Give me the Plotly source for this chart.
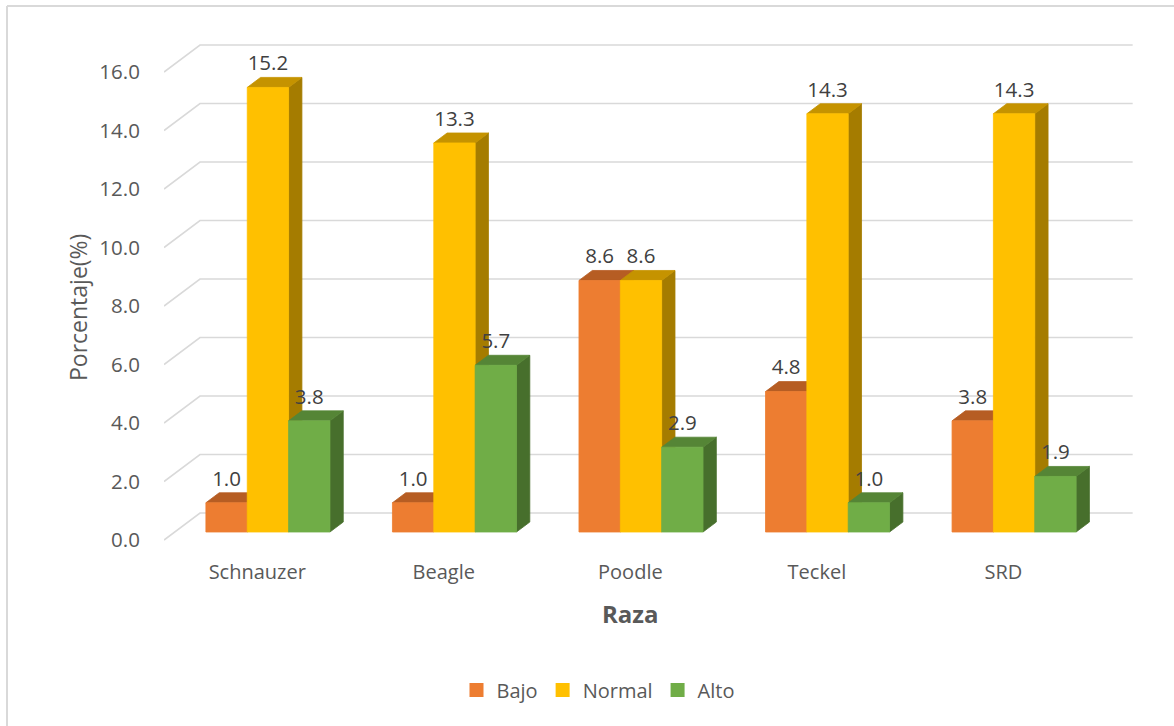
import plotly.graph_objects as go

# ---------------- data ----------------
categories = ["Schnauzer", "Beagle", "Poodle", "Teckel", "SRD"]
series_names = ["Bajo", "Normal", "Alto"]
bajo = [1.0, 1.0, 8.6, 4.8, 3.8]
normal = [15.2, 13.3, 8.6, 14.3, 14.3]
alto = [3.8, 5.7, 2.9, 1.0, 1.9]
y_ticks = [0, 2, 4, 6, 8, 10, 12, 14, 16]

# ---------------- styles ----------------
front_colors = ["#ED7D31", "#FFC000", "#70AD47"]
top_colors = ["#B65D23", "#C59300", "#558536"]
side_colors = ["#A04E1A", "#A57C00", "#476F2C"]
grid_color = "#D9D9D9"
text_color = "#595959"
label_color = "#404040"
FONT = "Open Sans"

# pseudo-3D geometry (in axis units)
DX = 36 / 186.6      # full depth, category units
DY = 27 / 29.25      # full depth, value units
F0 = 0.296           # bar front depth fraction
F1 = 0.666           # bar back depth fraction
GROUP = 0.665        # width of a group of bars (category units)
NBARS = 3
BW = GROUP / NBARS
LABEL_PAD = 2 / 29.25

values = [bajo, normal, alto]
fig = go.Figure()

# gridlines: floor diagonal + back wall horizontal
gx, gy = [], []
for v in y_ticks:
    gx += [0, DX, len(categories) + DX, None]
    gy += [v, v + DY, v + DY, None]
fig.add_trace(go.Scatter(x=gx, y=gy, mode="lines", line=dict(color=grid_color, width=1.6),
                         hoverinfo="skip", showlegend=False))

def poly(xs, ys, color):
    fig.add_trace(go.Scatter(x=xs + [xs[0]], y=ys + [ys[0]], mode="lines", fill="toself",
                             fillcolor=color, line=dict(color=color, width=0.8),
                             hoverinfo="skip", showlegend=False))

lab_x, lab_y, lab_t = [], [], []
for k in range(len(categories)):
    for s in range(NBARS):
        v = values[s][k]
        x0 = k + 0.5 - GROUP / 2 + s * BW
        x1 = x0 + BW
        fx, fy = F0 * DX, F0 * DY
        bx, by = F1 * DX, F1 * DY
        # side face
        poly([x1 + fx, x1 + bx, x1 + bx, x1 + fx], [fy, by, v + by, v + fy], side_colors[s])
        # top face
        poly([x0 + fx, x1 + fx, x1 + bx, x0 + bx], [v + fy, v + fy, v + by, v + by], top_colors[s])
        # front face
        poly([x0 + fx, x1 + fx, x1 + fx, x0 + fx], [fy, fy, v + fy, v + fy], front_colors[s])
        lab_x.append((x0 + x1) / 2 + fx)
        lab_y.append(v + by + LABEL_PAD)
        lab_t.append(f"{v:.1f}")

fig.add_trace(go.Scatter(x=lab_x, y=lab_y, mode="text", text=lab_t, textposition="top center",
                         textfont=dict(family=FONT, size=20.5, color=label_color),
                         hoverinfo="skip", showlegend=False, cliponaxis=False))

# legend entries
for s, name in enumerate(series_names):
    fig.add_trace(go.Scatter(x=[None], y=[None], mode="markers", name=name,
                             marker=dict(symbol="square", size=14, color=front_colors[s])))

L_PX, R_PX, T_PX, B_PX = 164, 1134, 35, 550
PW, PH = R_PX - L_PX, B_PX - T_PX
fig.update_layout(
    width=1174, height=726,
    margin=dict(l=L_PX, r=1174 - R_PX, t=T_PX, b=726 - B_PX),
    paper_bgcolor="white", plot_bgcolor="white",
    font=dict(family=FONT, color=text_color, size=20),
    xaxis=dict(range=[0, 5.2], tickvals=[k + 0.5 for k in range(len(categories))],
               ticktext=categories, showgrid=False, zeroline=False, showline=False,
               ticks="outside", ticklen=4, tickcolor="rgba(0,0,0,0)", automargin=False,
               tickfont=dict(family=FONT, size=20, color=text_color)),
    yaxis=dict(range=[-10 / 29.25, (540 - 35) / 29.25], tickvals=y_ticks,
               ticktext=[f"{v:.1f}" for v in y_ticks], showgrid=False, zeroline=False,
               showline=False, ticks="outside", ticklen=19, tickcolor="rgba(0,0,0,0)",
               automargin=False, tickfont=dict(family=FONT, size=20.5, color=text_color)),
    legend=dict(orientation="h", x=(598 - L_PX) / PW, xanchor="center",
                y=(B_PX - 690) / PH, yanchor="middle",
                font=dict(family=FONT, size=20, color=text_color), bgcolor="rgba(0,0,0,0)"),
    annotations=[
        dict(text="Porcentaje(%)", textangle=-90, xref="paper", yref="paper",
             x=(78 - L_PX) / PW, y=(B_PX - 308) / PH,
             xanchor="center", yanchor="middle", showarrow=False,
             font=dict(family=FONT, size=23, color=text_color)),
        dict(text="<b>Raza</b>", xref="x", yref="paper", x=2.5,
             y=(B_PX - 613) / PH, xanchor="center", yanchor="middle",
             showarrow=False, font=dict(family=FONT, size=24, color=text_color)),
    ],
    shapes=[
        dict(type="line", xref="paper", yref="paper",
             x0=(7 - L_PX) / PW, y0=(B_PX - 6) / PH, x1=(7 - L_PX) / PW, y1=(B_PX - 740) / PH,
             line=dict(color=grid_color, width=2)),
        dict(type="line", xref="paper", yref="paper",
             x0=(7 - L_PX) / PW, y0=(B_PX - 6) / PH, x1=(1180 - L_PX) / PW, y1=(B_PX - 6) / PH,
             line=dict(color=grid_color, width=2)),
    ],
)

fig.write_html("out.html", config={"displayModeBar": False})
